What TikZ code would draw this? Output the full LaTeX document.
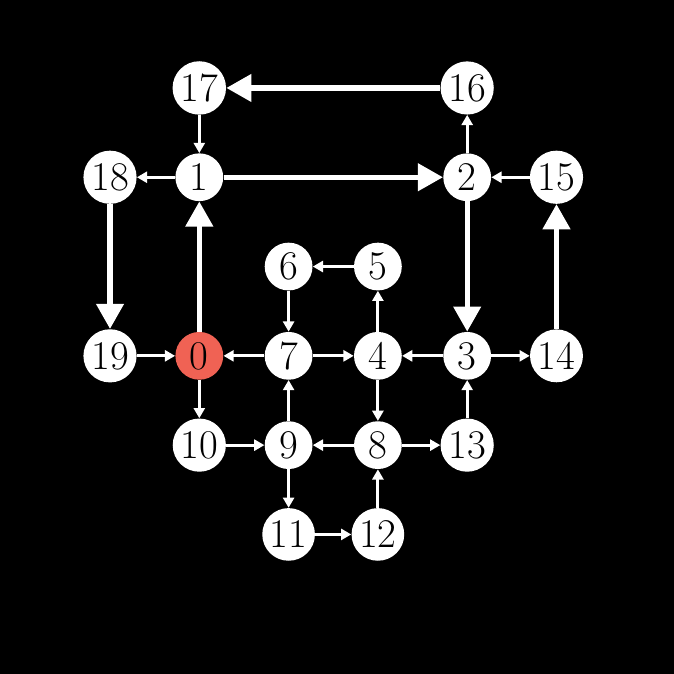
\documentclass[tikz,border=0pt]{standalone}
\usepackage{tikz}
\usetikzlibrary{arrows.meta}
\definecolor{startred}{RGB}{240,98,84}

\begin{document}
\begin{tikzpicture}[x=2cm,y=2cm,
        vtx/.style={circle,fill=white,inner sep=1.5pt,minimum size=1.07cm,
            font=\fontsize{26}{30}\selectfont},
        link/.style={draw=white,line width=1.9pt,-{Triangle[length=6.5pt,width=7pt]}},
        jump/.style={draw=white,line width=3.4pt,-{Triangle[length=16pt,width=17pt]}}]
        \fill[black] (-1.232,0.985) rectangle (6.316,-6.562);
        \node[vtx] (v17) at (1,0) {17};
        \node[vtx] (v16) at (4,0) {16};
        \node[vtx] (v18) at (0,-1) {18};
        \node[vtx] (v1) at (1,-1) {1};
        \node[vtx] (v2) at (4,-1) {2};
        \node[vtx] (v15) at (5,-1) {15};
        \node[vtx] (v6) at (2,-2) {6};
        \node[vtx] (v5) at (3,-2) {5};
        \node[vtx] (v19) at (0,-3) {19};
        \node[vtx,fill=startred] (v0) at (1,-3) {0};
        \node[vtx] (v7) at (2,-3) {7};
        \node[vtx] (v4) at (3,-3) {4};
        \node[vtx] (v3) at (4,-3) {3};
        \node[vtx] (v14) at (5,-3) {14};
        \node[vtx] (v10) at (1,-4) {10};
        \node[vtx] (v9) at (2,-4) {9};
        \node[vtx] (v8) at (3,-4) {8};
        \node[vtx] (v13) at (4,-4) {13};
        \node[vtx] (v11) at (2,-5) {11};
        \node[vtx] (v12) at (3,-5) {12};
        % long hops
        \path (v16) edge[jump] (v17)
            (v1) edge[jump] (v2)
            (v18) edge[jump] (v19)
            (v0) edge[jump] (v1)
            (v2) edge[jump] (v3)
            (v14) edge[jump] (v15);
        % single steps
        \path (v17) edge[link] (v1)
            (v1) edge[link] (v18)
            (v15) edge[link] (v2)
            (v2) edge[link] (v16)
            (v5) edge[link] (v6)
            (v6) edge[link] (v7)
            (v4) edge[link] (v5)
            (v19) edge[link] (v0)
            (v7) edge[link] (v0)
            (v7) edge[link] (v4)
            (v3) edge[link] (v4)
            (v3) edge[link] (v14)
            (v0) edge[link] (v10)
            (v10) edge[link] (v9)
            (v9) edge[link] (v7)
            (v8) edge[link] (v9)
            (v4) edge[link] (v8)
            (v8) edge[link] (v13)
            (v13) edge[link] (v3)
            (v9) edge[link] (v11)
            (v11) edge[link] (v12)
            (v12) edge[link] (v8);
    \end{tikzpicture}
\end{document}
